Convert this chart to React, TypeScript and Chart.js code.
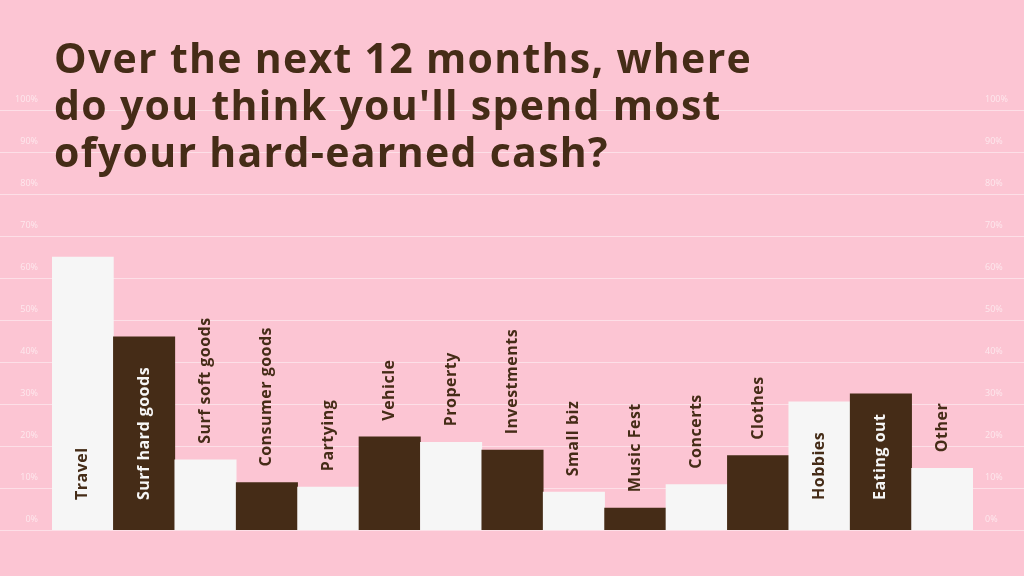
import React, { useEffect, useRef } from "react";
import { Chart, registerables } from "chart.js";

Chart.register(...registerables);

const categories = [
  "Travel",
  "Surf hard goods",
  "Surf soft goods",
  "Consumer goods",
  "Partying",
  "Vehicle",
  "Property",
  "Investments",
  "Small biz",
  "Music Fest",
  "Concerts",
  "Clothes",
  "Hobbies",
  "Eating out",
  "Other",
];
const values = [65, 46, 16.7, 11.3, 10.2, 22.2, 20.9, 19, 9, 5.2, 10.8, 17.7, 30.5, 32.4, 14.7];
const tickValues = [0, 10, 20, 30, 40, 50, 60, 70, 80, 90, 100];
const tickLabels = ["0%", "10%", "20%", "30%", "40%", "50%", "60%", "70%", "80%", "90%", "100%"];
const titleLines = [
  "Over the next 12 months, where",
  "do you think you'll spend most",
  "ofyour hard-earned cash?",
];

const PINK = "#fcc5d3";
const BROWN = "#452c17";
const WHITE = "#f6f6f6";
const barColors = categories.map((_, i) => (i % 2 === 0 ? WHITE : BROWN));
const insideThreshold = 25;

const decorPlugin = {
  id: "decor",
  beforeDraw(chart: any) {
    const { ctx, width, height } = chart;
    const y = chart.scales.y;
    ctx.save();
    ctx.fillStyle = PINK;
    ctx.fillRect(0, 0, width, height);
    ctx.strokeStyle = "rgba(255,255,255,0.45)";
    ctx.lineWidth = 1;
    ctx.font = "9px 'Open Sans'";
    ctx.fillStyle = "rgba(255,255,255,0.6)";
    ctx.textBaseline = "middle";
    tickValues.forEach((v, i) => {
      const py = Math.round(y.getPixelForValue(v)) + 0.5;
      ctx.beginPath();
      ctx.moveTo(0, py);
      ctx.lineTo(width, py);
      ctx.stroke();
      ctx.textAlign = "right";
      ctx.fillText(tickLabels[i], 38, py - 11);
      ctx.textAlign = "left";
      ctx.fillText(tickLabels[i], 985, py - 11);
    });
    ctx.restore();
  },
  afterDatasetsDraw(chart: any) {
    const { ctx } = chart;
    const meta = chart.getDatasetMeta(0);
    const base = chart.scales.y.getPixelForValue(0);
    ctx.save();
    ctx.font = "bold 16px 'Open Sans'";
    (ctx as any).letterSpacing = "0.5px";
    ctx.textBaseline = "middle";
    meta.data.forEach((bar: any, i: number) => {
      const inside = values[i] >= insideThreshold;
      let startY: number;
      if (inside) {
        startY = base - 30;
        ctx.fillStyle = i % 2 === 0 ? BROWN : WHITE;
      } else {
        startY = bar.y - 16;
        ctx.fillStyle = BROWN;
      }
      ctx.save();
      ctx.translate(bar.x, startY);
      ctx.rotate(-Math.PI / 2);
      ctx.textAlign = "left";
      ctx.fillText(categories[i], 0, 0);
      ctx.restore();
    });
    ctx.restore();
  },
  afterDraw(chart: any) {
    const { ctx } = chart;
    ctx.save();
    ctx.fillStyle = BROWN;
    ctx.font = "bold 41px 'Open Sans'";
    (ctx as any).letterSpacing = "1.3px";
    ctx.textBaseline = "alphabetic";
    ctx.textAlign = "left";
    titleLines.forEach((line, i) => {
      ctx.fillText(line, 54, 73 + i * 47);
    });
    ctx.restore();
  },
};

export default function App() {
  const ref = useRef<HTMLCanvasElement>(null);
  useEffect(() => {
    if (!ref.current) return;
    const chart = new Chart(ref.current, {
      type: "bar",
      data: {
        labels: categories,
        datasets: [
          {
            data: values,
            backgroundColor: barColors,
            borderWidth: 0,
            categoryPercentage: 1,
            barPercentage: 1,
          },
        ],
      },
      options: {
        responsive: false,
        animation: false,
        layout: { padding: { left: 52, right: 51, top: 110, bottom: 46 } },
        plugins: { legend: { display: false }, title: { display: false }, tooltip: { enabled: false } },
        scales: {
          x: { display: false },
          y: { display: false, min: 0, max: 100 },
        },
      },
      plugins: [decorPlugin],
    });
    return () => chart.destroy();
  }, []);
  return (
    <div style={{ position: "fixed", left: 0, top: 0, width: 1024, height: 576, background: PINK }}>
      <canvas ref={ref} width={1024} height={576} style={{ display: "block" }} />
    </div>
  );
}
